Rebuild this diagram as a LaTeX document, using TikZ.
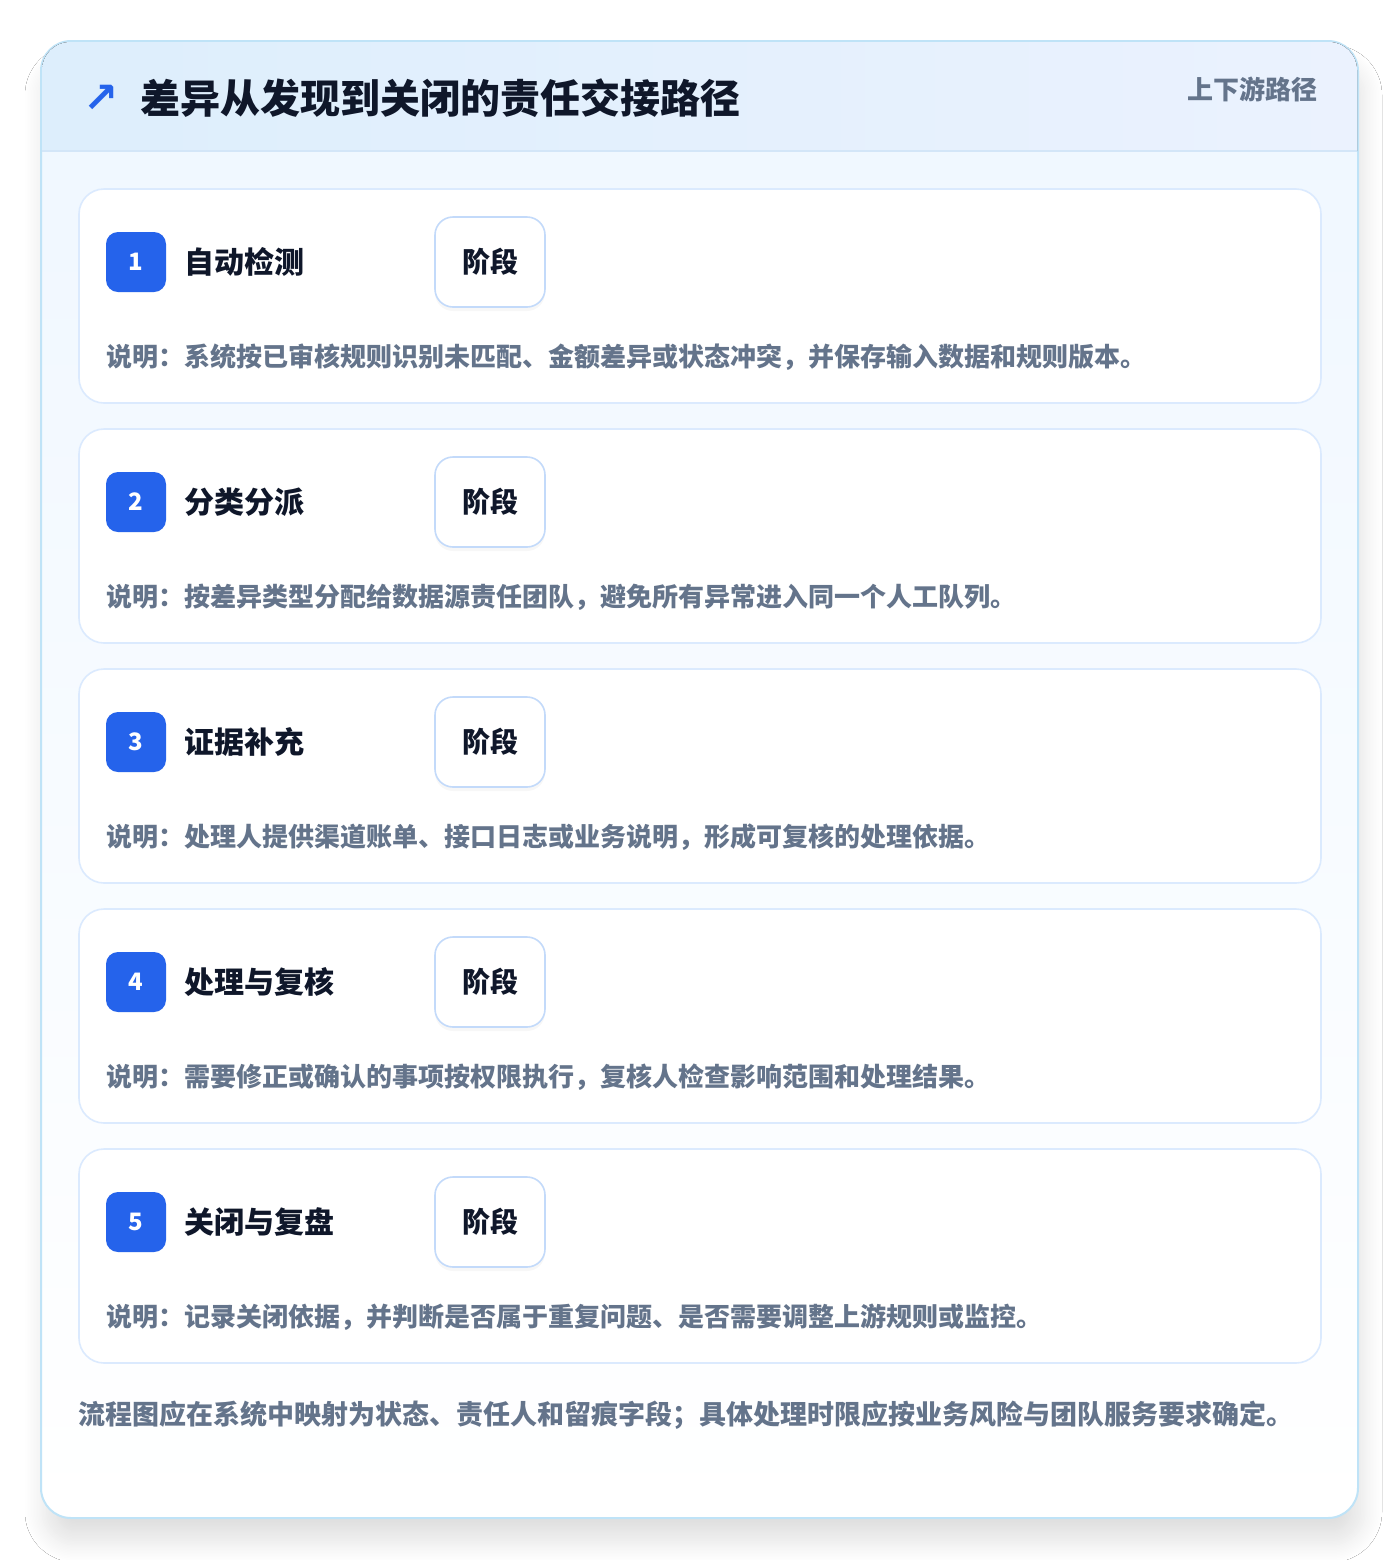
\documentclass[tikz,border=0pt]{standalone}
\usepackage{fontspec}
\setmainfont{Noto Sans CJK SC}
\newfontfamily\symfont{DejaVu Sans}
\usepackage{tikz}
\usetikzlibrary{positioning,shadows,shadows.blur}
\definecolor{accent}{HTML}{2563EB}
\definecolor{ink}{HTML}{0F172A}
\definecolor{muted}{HTML}{64748B}
\definecolor{cardline}{HTML}{DBEAFE}
\definecolor{outerline}{HTML}{BFE3F7}
\definecolor{headleft}{HTML}{DDEEFC}
\definecolor{headright}{HTML}{EBF2FE}
\definecolor{headline}{HTML}{D3E6F8}
\definecolor{stageline}{HTML}{C3DAFA}
\definecolor{bodytop}{HTML}{EFF7FF}
\tikzset{
  card/.style={draw=cardline,line width=0.8pt,fill=white,rounded corners=12.5pt,minimum width=621pt,minimum height=107pt},
  badge/.style={fill=accent,rounded corners=6pt,minimum size=30pt,inner sep=0pt,text=white,font=\bfseries\fontsize{12}{12}\selectfont},
  steptitle/.style={inner sep=0pt,text=ink,font=\bfseries\fontsize{15}{15}\selectfont},
  stagebox/.style={draw=stageline,line width=0.8pt,fill=white,rounded corners=9pt,minimum width=55pt,minimum height=45pt,text=ink,font=\bfseries\fontsize{14}{14}\selectfont,drop shadow={opacity=0.06,shadow xshift=0pt,shadow yshift=-2pt}},
  desc/.style={anchor=west,inner sep=0pt,text=muted,font=\bfseries\fontsize{13}{13}\selectfont}
}

\begin{document}
\begin{tikzpicture}[x=0.5pt,y=-0.5pt]
    \useasboundingbox (0,0) rectangle (1400,1560);
    \fill[white] (0,0) rectangle (1400,1560);

    \draw[outerline,line width=1pt,top color=bodytop,bottom color=white,rounded corners=15pt,
      blur shadow={shadow xshift=2pt,shadow yshift=-12pt,shadow blur radius=10pt,shadow opacity=12,shadow blur steps=14}]
      (41,41) rectangle (1358,1518);
    \fill[left color=headleft,right color=headright] (42,151) [rounded corners=14pt] -- (42,42) -- (1357,42) [sharp corners] -- (1357,151) -- cycle;
    \draw[headline,line width=0.8pt] (42,151) -- (1357,151);

    \node[text=accent,font=\symfont\bfseries\fontsize{21}{21}\selectfont,inner sep=0pt] (icon) at (101,99) {↗};
    \node[anchor=west,inner sep=0pt,text=ink,font=\bfseries\fontsize{20}{20}\selectfont] (title) at (140,98) {差异从发现到关闭的责任交接路径};
    \node[anchor=east,inner sep=0pt,text=muted,font=\bfseries\fontsize{13}{13}\selectfont] (tag) at (1318,89) {上下游路径};

    \node[card] (c1) at (700,296) {};
    \node[badge] (b1) at (136,262) {1};
    \node[steptitle,right=9pt of b1] (t1) {自动检测};
    \node[stagebox] (s1) at (490,262) {阶段};
    \node[desc] (d1) at (106,357) {说明：系统按已审核规则识别未匹配、金额差异或状态冲突，并保存输入数据和规则版本。};

    \node[card] (c2) at (700,536) {};
    \node[badge] (b2) at (136,502) {2};
    \node[steptitle,right=9pt of b2] (t2) {分类分派};
    \node[stagebox] (s2) at (490,502) {阶段};
    \node[desc] (d2) at (106,597) {说明：按差异类型分配给数据源责任团队，避免所有异常进入同一个人工队列。};

    \node[card] (c3) at (700,776) {};
    \node[badge] (b3) at (136,742) {3};
    \node[steptitle,right=9pt of b3] (t3) {证据补充};
    \node[stagebox] (s3) at (490,742) {阶段};
    \node[desc] (d3) at (106,837) {说明：处理人提供渠道账单、接口日志或业务说明，形成可复核的处理依据。};

    \node[card] (c4) at (700,1016) {};
    \node[badge] (b4) at (136,982) {4};
    \node[steptitle,right=9pt of b4] (t4) {处理与复核};
    \node[stagebox] (s4) at (490,982) {阶段};
    \node[desc] (d4) at (106,1077) {说明：需要修正或确认的事项按权限执行，复核人检查影响范围和处理结果。};

    \node[card] (c5) at (700,1256) {};
    \node[badge] (b5) at (136,1222) {5};
    \node[steptitle,right=9pt of b5] (t5) {关闭与复盘};
    \node[stagebox] (s5) at (490,1222) {阶段};
    \node[desc] (d5) at (106,1317) {说明：记录关闭依据，并判断是否属于重复问题、是否需要调整上游规则或监控。};

    \node[anchor=west,inner sep=0pt,text=muted,font=\bfseries\fontsize{13.5}{13.5}\selectfont] (note) at (78,1415) {流程图应在系统中映射为状态、责任人和留痕字段；具体处理时限应按业务风险与团队服务要求确定。};
  \end{tikzpicture}
\end{document}
